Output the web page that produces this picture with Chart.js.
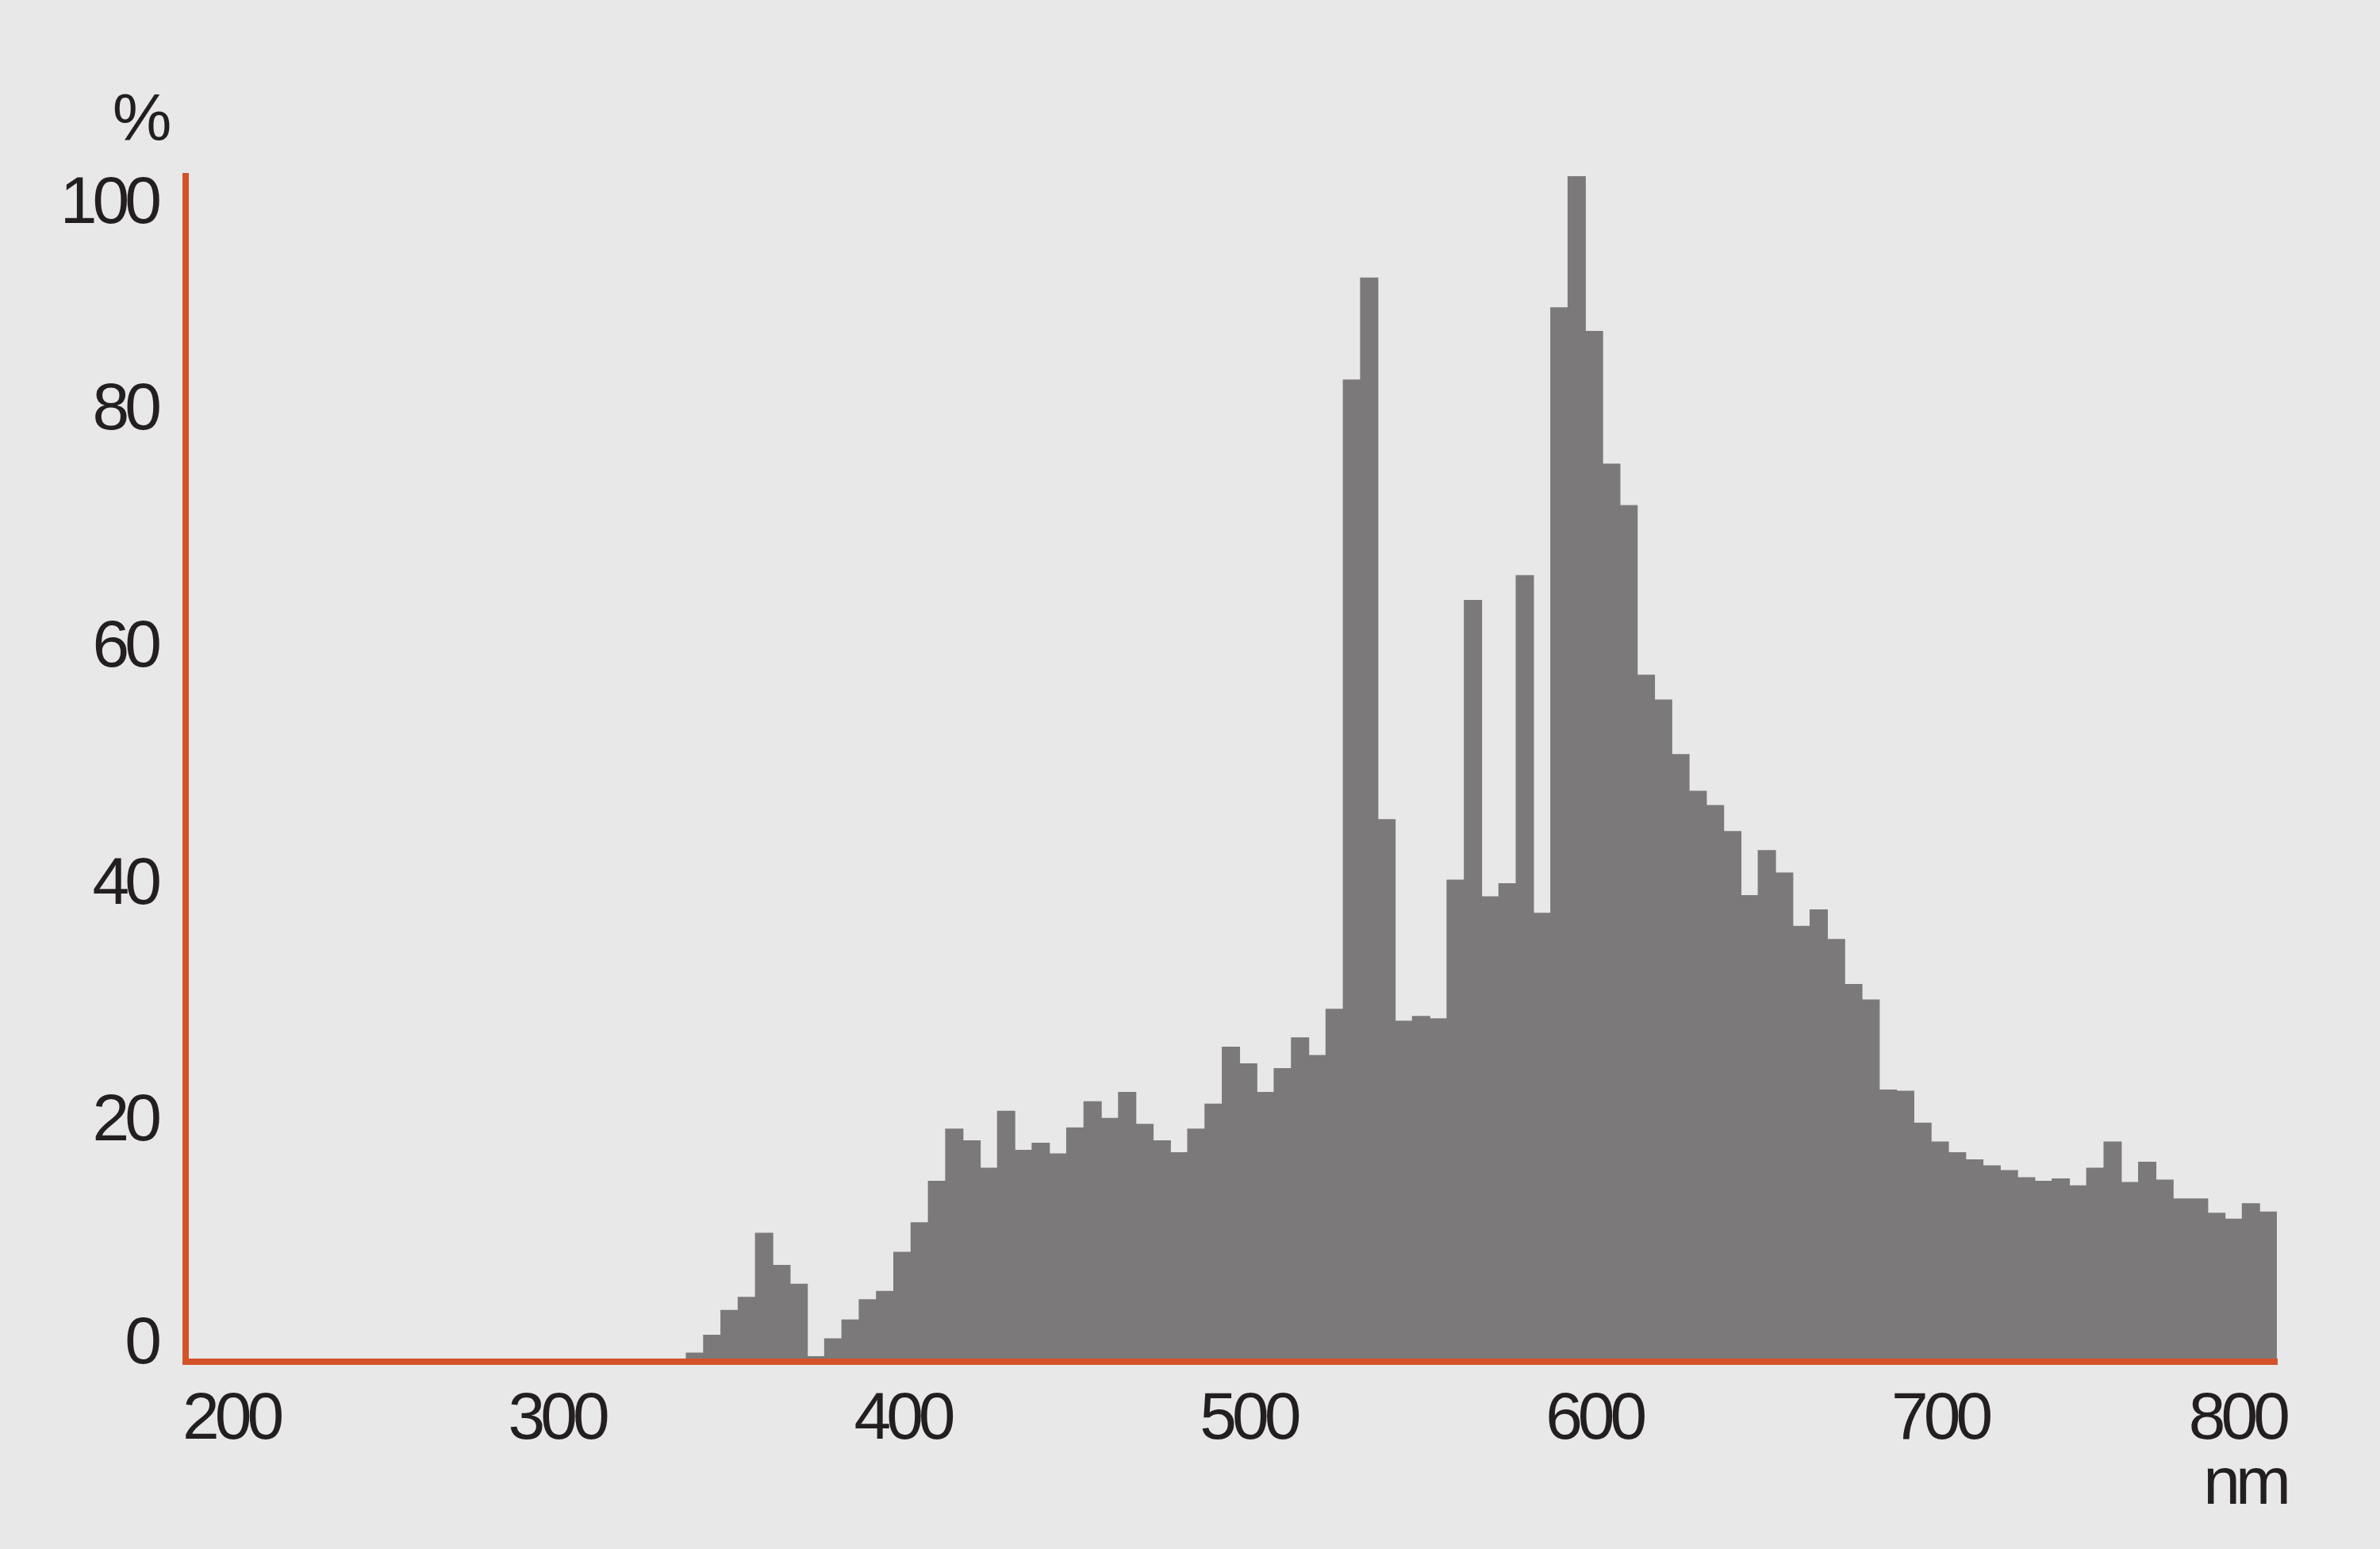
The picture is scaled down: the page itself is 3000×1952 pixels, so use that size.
<!DOCTYPE html>
<html lang="en">
<head>
<meta charset="UTF-8">
<title>Spectral distribution</title>
<script src="https://cdn.jsdelivr.net/npm/chart.js"></script>
<style>
  html, body { margin: 0; padding: 0; background: #e8e8e8; }
  .wrap { width: 3000px; height: 1952px; position: relative; }
</style>
</head>
<body>
<div class="wrap"><canvas id="spectrum"></canvas></div>
<script>
  // centres of the 5 nm bins
  const wavelengths = [
    335, 340, 345, 350, 355, 360, 365, 370, 375, 380, 385, 390, 395,
    400, 405, 410, 415, 420, 425, 430, 435, 440, 445, 450, 455, 460, 465, 470, 475, 480, 485, 490, 495,
    500, 505, 510, 515, 520, 525, 530, 535, 540, 545, 550, 555, 560, 565, 570, 575, 580, 585, 590, 595,
    600, 605, 610, 615, 620, 625, 630, 635, 640, 645, 650, 655, 660, 665, 670, 675, 680, 685, 690, 695,
    700, 705, 710, 715, 720, 725, 730, 735, 740, 745, 750, 755, 760, 765, 770, 775, 780, 785, 790, 795
  ];
  // relative intensity, %
  const intensity = [
    0.2, 0.7, 2.2, 4.3, 5.4, 10.8, 8.1, 6.5, 0.4, 1.9, 3.5, 5.2, 5.9,
    9.2, 11.7, 15.2, 19.6, 18.6, 16.3, 21.1, 17.8, 18.4, 17.5, 19.7, 21.9, 20.5, 22.7, 20.0, 18.6, 17.6, 19.6, 21.7, 26.5,
    25.1, 22.7, 24.7, 27.3, 25.8, 29.7, 82.8, 91.4, 45.7, 28.7, 29.1, 28.9, 40.6, 64.2, 39.2, 40.3, 66.3, 37.8, 88.9, 100,
    86.9, 75.7, 72.2, 57.9, 55.8, 51.2, 48.1, 46.9, 44.7, 39.3, 43.1, 41.2, 36.7, 38.1, 35.6, 31.8, 30.5, 22.9, 22.8, 20.1,
    18.5, 17.6, 17.0, 16.5, 16.1, 15.5, 15.2, 15.4, 14.8, 16.3, 18.5, 15.1, 16.8, 15.3, 13.7, 13.7, 12.5, 12.0, 13.3, 12.6
  ];
  const xTickLabels = [200, 300, 400, 500, 600, 700, 800];
  const yTickLabels = [0, 20, 40, 60, 80, 100];
  const xUnit = 'nm';
  const yUnit = '%';

  const barColor = '#7b797a';
  const axisColor = '#d4522a';
  const textColor = '#231f20';
  const labelFont = '84px "Liberation Sans", Arial, Helvetica, sans-serif';

  // tick labels are drawn by hand so the end labels can sit inside the axis, like the original
  const tickText = {
    id: 'tickText',
    afterDraw(chart) {
      const { ctx, chartArea, scales: { x, y } } = chart;
      ctx.save();
      ctx.fillStyle = textColor;
      ctx.font = labelFont;
      ctx.letterSpacing = '-6px';
      ctx.textBaseline = 'alphabetic';

      ctx.textAlign = 'center';
      const xLo = chartArea.left - 4;
      const xHi = x.getPixelForValue(xTickLabels[xTickLabels.length - 1]);
      xTickLabels.forEach(v => {
        const s = String(v);
        const w = ctx.measureText(s).width;
        let px = x.getPixelForValue(v);
        px = Math.min(Math.max(px, xLo + w / 2), xHi - w / 2);
        ctx.fillText(s, px, chartArea.bottom + 97);
      });

      ctx.textAlign = 'right';
      yTickLabels.forEach(v => {
        let py = y.getPixelForValue(v) + 20.5;
        py = Math.min(Math.max(py, chartArea.top + 59), chartArea.bottom + 2.5);
        ctx.fillText(String(v), chartArea.left - 36, py);
      });

      ctx.textAlign = 'center';
      ctx.fillText(yUnit, chartArea.left - 58, chartArea.top - 45);
      ctx.textAlign = 'right';
      ctx.fillText(xUnit, chartArea.right + 12, chartArea.bottom + 179.5);
      ctx.restore();
    }
  };

  new Chart(document.getElementById('spectrum'), {
    type: 'bar',
    data: {
      datasets: [{
        data: wavelengths.map((w, i) => ({ x: w, y: intensity[i] })),
        backgroundColor: barColor,
        borderWidth: 0,
        inflateAmount: 0.6,
        barPercentage: 1.0,
        categoryPercentage: 1.0
      }]
    },
    options: {
      responsive: true,
      maintainAspectRatio: false,
      animation: false,
      layout: { padding: { left: 234, top: 222, right: 130, bottom: 236.5 } },
      plugins: { legend: { display: false }, tooltip: { enabled: false } },
      scales: {
        x: {
          type: 'linear',
          min: 192.7,
          max: 797.5,
          offset: false,
          grid: { display: false },
          ticks: { display: false },
          border: { color: axisColor, width: 8, z: 1 },
          afterBuildTicks: s => { s.ticks = xTickLabels.map(v => ({ value: v })); },
          afterFit: s => { s.height = 0; }
        },
        y: {
          min: 0,
          max: 100,
          grid: { display: false },
          ticks: { display: false },
          border: { color: axisColor, width: 8, z: 1 },
          afterBuildTicks: s => { s.ticks = yTickLabels.map(v => ({ value: v })); },
          afterFit: s => { s.width = 0; }
        }
      }
    },
    plugins: [tickText]
  });
</script>
</body>
</html>
